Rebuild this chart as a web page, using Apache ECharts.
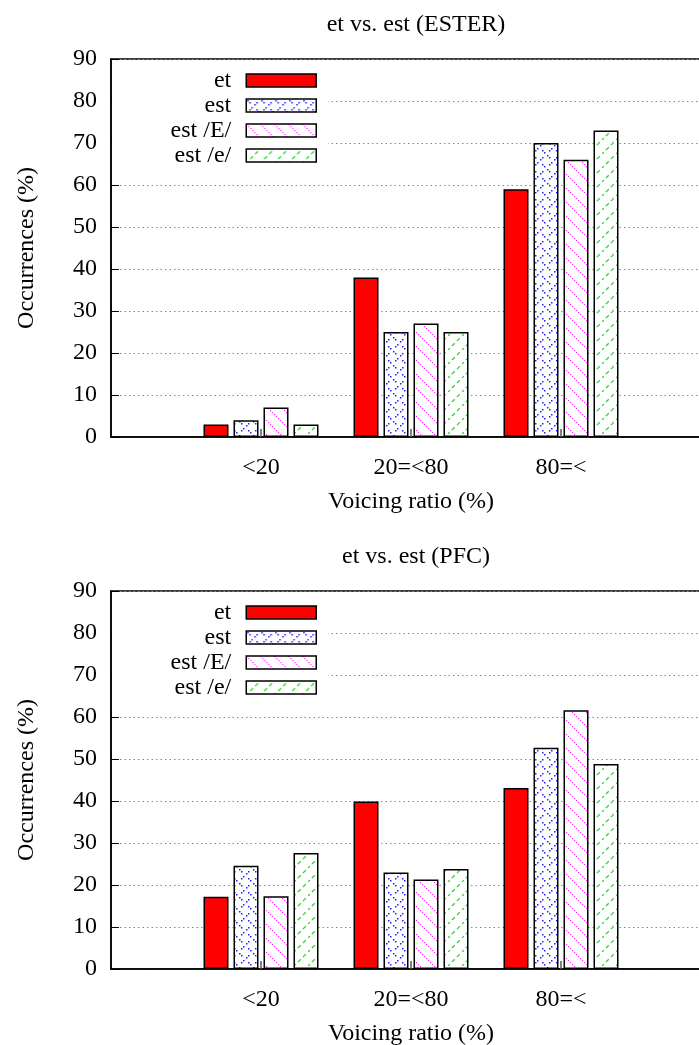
<!DOCTYPE html>
<html>
<head>
<meta charset="utf-8">
<script src="https://cdn.jsdelivr.net/npm/echarts@6/dist/echarts.min.js"></script>
<style>
  html, body { margin: 0; padding: 0; background: #fff; }
  #chart { width: 699px; height: 1045px; }
</style>
</head>
<body>
<div id="chart"></div>
<script>
// Voicing-ratio bins on the x axis (blank slots pad the range on both sides)
const categories = ['', '<20', '20=<80', '80=<', ''];
const yTicks = [0, 10, 20, 30, 40, 50, 60, 70, 80, 90];
const seriesNames = ['et', 'est', 'est /E/', 'est /e/'];

// ESTER corpus, occurrences (%) per bin
const esterEt    = [3, 38, 59];
const esterEst   = [4, 25, 70];
const esterEstE  = [7, 27, 66];
const esterEste  = [3, 25, 73];

// PFC corpus, occurrences (%) per bin
const pfcEt      = [17.2, 39.9, 43.1];
const pfcEst     = [24.6, 23.0, 52.7];
const pfcEstE    = [17.3, 21.3, 61.6];
const pfcEste    = [27.6, 23.8, 48.8];

const FONT = '"Liberation Serif", "Times New Roman", serif';
const FS = 24;

function tile(size, draw) {
  const c = document.createElement('canvas');
  c.width = size; c.height = size;
  const ctx = c.getContext('2d');
  ctx.fillStyle = '#fff';
  ctx.fillRect(0, 0, size, size);
  draw(ctx, size);
  return c;
}

// dotted cross-hatch in blue: small broken crosses
const crossTile = tile(14, (ctx, s) => {
  ctx.fillStyle = '#2020ff';
  const pts = [[1, 1], [3, 3], [10, 3], [8, 5], [5, 8], [3, 10], [10, 10], [12, 12]];
  pts.forEach(([x, y]) => ctx.fillRect(x, y, 1.5, 1.5));
});
// dotted back-diagonal in magenta
const backTile = tile(14, (ctx, s) => {
  ctx.fillStyle = '#ff33ff';
  for (let i = 0; i < s; i += 2) ctx.fillRect(i, i, 1.2, 1.2);
});
// dashed forward diagonal in green
const fwdTile = tile(14, (ctx, s) => {
  ctx.strokeStyle = '#22dd22';
  ctx.lineWidth = 1.3;
  ctx.setLineDash([4, 3]);
  ctx.beginPath();
  ctx.moveTo(-1, s + 1);
  ctx.lineTo(s + 1, -1);
  ctx.stroke();
});

const fills = [
  '#ff0000',
  { image: crossTile, repeat: 'repeat' },
  { image: backTile, repeat: 'repeat' },
  { image: fwdTile, repeat: 'repeat' }
];

const panels = [
  { title: 'et vs. est (ESTER)', top: 59, data: [esterEt, esterEst, esterEstE, esterEste] },
  { title: 'et vs. est (PFC)',   top: 591, data: [pfcEt, pfcEst, pfcEstE, pfcEste] }
];

const GRID_LEFT = 111, GRID_W = 600, GRID_H = 378;

const option = {
  backgroundColor: '#fff',
  animation: false,
  title: panels.map(p => ({
    text: p.title,
    left: GRID_LEFT + GRID_W / 2,
    textAlign: 'center',
    top: p.top - 51,
    textStyle: { fontFamily: FONT, fontSize: FS, fontWeight: 'normal', color: '#000' }
  })),
  grid: panels.map(p => ({
    left: GRID_LEFT, top: p.top, width: GRID_W, height: GRID_H,
    outerBoundsMode: 'none', containLabel: false,
    show: true, borderColor: '#000', borderWidth: 1.5, backgroundColor: 'transparent'
  })),
  xAxis: panels.map((p, i) => ({
    type: 'category',
    gridIndex: i,
    data: categories,
    boundaryGap: false,
    name: 'Voicing ratio (%)',
    nameLocation: 'middle',
    nameGap: 53,
    nameTextStyle: { fontFamily: FONT, fontSize: FS, color: '#000' },
    axisLine: { show: true, lineStyle: { color: '#000', width: 1.5 } },
    axisTick: {
      show: true, inside: true, length: 8,
      interval: (idx) => idx >= 1 && idx <= 3,
      lineStyle: { color: '#555', width: 1.5 }
    },
    axisLabel: {
      interval: 0, margin: 19,
      fontFamily: FONT, fontSize: FS, color: '#000'
    },
    splitLine: { show: false }
  })),
  yAxis: panels.map((p, i) => ({
    type: 'value',
    gridIndex: i,
    min: yTicks[0],
    max: yTicks[yTicks.length - 1],
    interval: 10,
    name: 'Occurrences (%)',
    nameLocation: 'middle',
    nameGap: 72,
    nameTextStyle: { fontFamily: FONT, fontSize: FS, color: '#000' },
    axisLine: { show: true, lineStyle: { color: '#000', width: 1.5 } },
    axisTick: { show: true, inside: true, length: 8, lineStyle: { color: '#000', width: 1 } },
    axisLabel: { margin: 14, fontFamily: FONT, fontSize: FS, color: '#000' },
    splitLine: { show: true, lineStyle: { color: '#888', width: 1, type: [1.5, 3] } }
  })),
  legend: [],
  graphic: {
    elements: panels.map(p => ({
      type: 'rect', z: 3, silent: true,
      shape: { x: GRID_LEFT + 1, y: p.top + 3, width: 216, height: 105 },
      style: { fill: '#fff' }
    }))
  },
  series: []
};

panels.forEach((p, pi) => {
  p.data.forEach((vals, si) => {
    option.series.push({
      type: 'bar',
      name: seriesNames[si],
      xAxisIndex: pi,
      yAxisIndex: pi,
      barWidth: 25,
      barGap: '20%',
      data: ['-'].concat(vals, ['-']),
      itemStyle: { color: fills[si], borderColor: '#000', borderWidth: 1.5 }
    });
    // one legend per row so that every key box lines up on its right edge
    option.legend.push({
      data: [seriesNames[si]],
      align: 'right',
      right: 699 - 317,
      top: p.top + 21.5 + si * 25 - 13,
      padding: 0,
      itemWidth: 70,
      itemHeight: 13,
      icon: 'rect',
      selectedMode: false,
      itemStyle: { borderColor: '#000', borderWidth: 1.5 },
      textStyle: {
        fontFamily: FONT, fontSize: FS, color: '#000',
        padding: [0, 10, 0, 0], lineHeight: 26
      }
    });
  });
});

const chart = echarts.init(document.getElementById('chart'), null, { renderer: 'canvas' });
chart.setOption(option);
</script>
</body>
</html>
